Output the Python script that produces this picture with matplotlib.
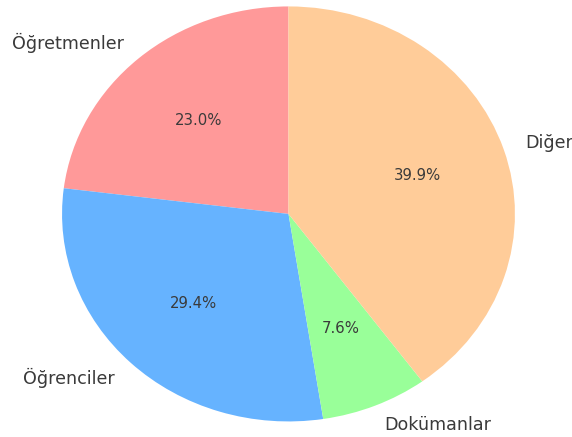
import matplotlib.pyplot as plt

plt.rcParams['font.family'] = ['DejaVu Sans']

# Share of each group
labels = ['Öğretmenler', 'Öğrenciler', 'Dokümanlar', 'Diğer']
shares = [23.0, 29.4, 7.6, 39.9]
colors = ['#ff9999', '#66b3ff', '#99ff99', '#ffcc99']

fig = plt.figure(figsize=(5.72, 4.37), dpi=100)
ax = fig.add_axes([0, 0, 1, 1])

wedges, texts, autotexts = ax.pie(shares, labels=labels, colors=colors,
                                  autopct='%1.1f%%', startangle=90,
                                  textprops={'fontsize': 12.6, 'color': '#3a3a3a'})
for t in autotexts:
    t.set_fontsize(10.7)

# stretched pie, filling the figure
ax.set_aspect('auto')
ax.set_xlim(-1.274, 1.252)
ax.set_ylim(-1.075, 1.031)

plt.savefig('out.png', dpi=100)
